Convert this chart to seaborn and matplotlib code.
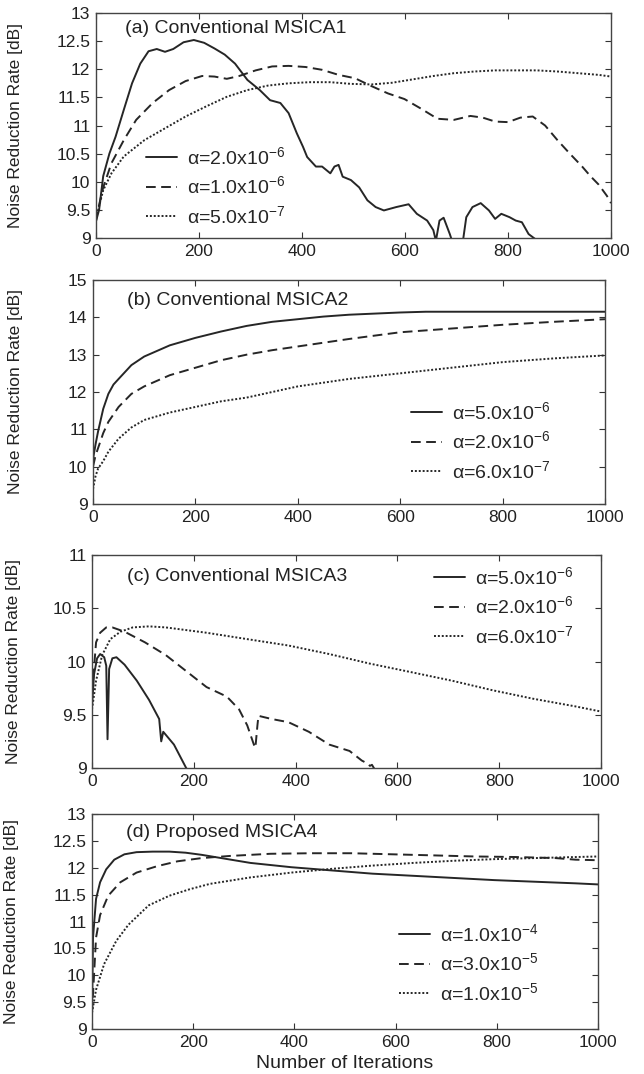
import numpy as np
import pandas as pd
import matplotlib
matplotlib.use("Agg")
import matplotlib.pyplot as plt
import seaborn as sns

sns.set_theme(style="ticks")
plt.rcParams["font.family"] = ["Liberation Sans", "DejaVu Sans"]
plt.rcParams["mathtext.fontset"] = "custom"
plt.rcParams["mathtext.rm"] = "Liberation Sans"
plt.rcParams["mathtext.it"] = "Liberation Sans"

# ---------------- data ----------------
# (a) Conventional MSICA1
a_lbl = ["α=2.0x10$^{-6}$", "α=1.0x10$^{-6}$", "α=5.0x10$^{-7}$"]
a1_x = [0, 6, 14, 26, 38, 54, 70, 86, 102, 118, 134, 150, 170, 190, 210, 230, 250, 270, 294, 318,
        338, 358, 374, 390, 402, 410, 427, 439, 455, 463, 471, 479, 495, 511, 527, 543, 559, 583,
        607, 623, 643, 655, 660, 667, 675, 687, 695, 705, 711, 719, 731, 747, 763, 775, 787, 803,
        815, 827, 840, 856, 870, 1000]
a1_y = [9.3, 9.5, 10.1, 10.5, 10.8, 11.28, 11.75, 12.1, 12.32, 12.36, 12.31, 12.36, 12.48, 12.52,
        12.47, 12.37, 12.26, 12.1, 11.81, 11.63, 11.45, 11.4, 11.22, 10.86, 10.62, 10.44, 10.27,
        10.27, 10.15, 10.27, 10.3, 10.09, 10.03, 9.9, 9.67, 9.55, 9.49, 9.55, 9.6, 9.43, 9.31,
        9.14, 8.95, 9.31, 9.36, 9.07, 8.85, 8.7, 8.85, 9.37, 9.55, 9.62, 9.49, 9.34, 9.43, 9.37,
        9.31, 9.28, 9.07, 8.96, 8.8, 8.6]
a2_x = [0, 2, 14, 30, 54, 78, 110, 142, 174, 206, 230, 254, 278, 310, 342, 374, 407, 439, 471,
        503, 535, 567, 599, 631, 663, 695, 727, 751, 775, 800, 824, 848, 872, 896, 920, 944, 960,
        976, 992, 1000]
a2_y = [9.3, 9.43, 9.9, 10.33, 10.74, 11.1, 11.4, 11.63, 11.79, 11.88, 11.87, 11.83, 11.88, 11.98,
        12.05, 12.06, 12.04, 11.99, 11.9, 11.84, 11.7, 11.57, 11.47, 11.3, 11.12, 11.1, 11.17,
        11.14, 11.07, 11.06, 11.14, 11.16, 11.0, 10.74, 10.5, 10.27, 10.1, 9.95, 9.75, 9.62]
a3_x = [0, 14, 30, 54, 94, 134, 174, 214, 254, 294, 334, 374, 415, 455, 495, 535, 575, 615, 655,
        695, 735, 775, 815, 856, 896, 936, 976, 1000]
a3_y = [9.35, 9.85, 10.15, 10.45, 10.74, 10.95, 11.16, 11.34, 11.51, 11.63, 11.71, 11.75, 11.77,
        11.77, 11.74, 11.73, 11.76, 11.82, 11.88, 11.93, 11.96, 11.98, 11.98, 11.98, 11.96, 11.93,
        11.9, 11.87]

# (b) Conventional MSICA2
b_lbl = ["α=5.0x10$^{-6}$", "α=2.0x10$^{-6}$", "α=6.0x10$^{-7}$"]
b1_x = [0, 5, 10, 20, 30, 40, 50, 75, 100, 150, 200, 250, 300, 350, 400, 450, 500, 550, 600, 650,
        700, 1000]
b1_y = [10.2, 10.6, 10.95, 11.55, 11.95, 12.2, 12.35, 12.72, 12.95, 13.25, 13.45, 13.62, 13.77,
        13.88, 13.95, 14.02, 14.07, 14.1, 14.13, 14.15, 14.15, 14.15]
b2_x = [0, 5, 10, 20, 30, 50, 75, 100, 150, 200, 250, 300, 350, 400, 450, 500, 600, 700, 800, 900,
        1000]
b2_y = [10.0, 10.3, 10.5, 10.9, 11.2, 11.6, 11.95, 12.15, 12.45, 12.65, 12.85, 13.0, 13.12, 13.22,
        13.32, 13.42, 13.6, 13.7, 13.8, 13.88, 13.95]
b3_x = [0, 5, 10, 20, 30, 50, 75, 100, 150, 200, 250, 300, 400, 500, 600, 700, 800, 900, 1000]
b3_y = [9.4, 9.75, 9.95, 10.15, 10.4, 10.75, 11.05, 11.25, 11.45, 11.6, 11.75, 11.85, 12.15, 12.35,
        12.5, 12.65, 12.8, 12.9, 12.98]

# (c) Conventional MSICA3
c_lbl = ["α=5.0x10$^{-6}$", "α=2.0x10$^{-6}$", "α=6.0x10$^{-7}$"]
c1_x = [0, 4, 10, 16, 24, 28, 30.5, 33.7, 40, 48, 64, 88, 112, 132, 136, 140, 161, 185, 200]
c1_y = [9.58, 9.88, 10.03, 10.07, 10.04, 9.96, 9.27, 9.93, 10.03, 10.04, 9.97, 9.82, 9.64, 9.46,
        9.25, 9.34, 9.22, 9.0, 8.9]
c2_x = [0, 8, 16, 28, 40, 64, 104, 145, 185, 225, 265, 289, 305, 318, 321, 325, 327, 353, 386, 426,
        466, 506, 530, 542, 546, 550, 560]
c2_y = [9.7, 10.18, 10.27, 10.32, 10.32, 10.28, 10.18, 10.06, 9.91, 9.76, 9.67, 9.55, 9.4, 9.22,
        9.19, 9.4, 9.49, 9.46, 9.43, 9.34, 9.22, 9.16, 9.07, 9.04, 9.02, 9.03, 8.95]
c3_x = [0, 8, 20, 36, 56, 80, 112, 145, 225, 305, 386, 466, 546, 627, 707, 787, 867, 948, 1000]
c3_y = [9.55, 9.82, 10.06, 10.21, 10.28, 10.32, 10.33, 10.32, 10.27, 10.21, 10.15, 10.07, 9.98,
        9.9, 9.82, 9.73, 9.65, 9.58, 9.53]

# (d) Proposed MSICA4
d_lbl = ["α=1.0x10$^{-4}$", "α=3.0x10$^{-5}$", "α=1.0x10$^{-5}$"]
d1_x = [0, 2, 4, 8, 16, 28, 44, 64, 88, 120, 153, 185, 217, 249, 281, 313, 394, 474, 554, 635,
        715, 795, 875, 956, 1000]
d1_y = [9.3, 10.7, 10.94, 11.42, 11.73, 11.97, 12.15, 12.25, 12.29, 12.3, 12.3, 12.28, 12.24, 12.19,
        12.14, 12.09, 12.01, 11.95, 11.89, 11.85, 11.81, 11.77, 11.74, 11.71, 11.69]
d2_x = [0, 8, 16, 32, 56, 88, 129, 169, 217, 273, 353, 434, 514, 594, 675, 755, 835, 916, 956,
        1000]
d2_y = [9.3, 10.7, 11.12, 11.48, 11.73, 11.91, 12.03, 12.12, 12.18, 12.22, 12.26, 12.27, 12.27,
        12.25, 12.23, 12.21, 12.2, 12.18, 12.15, 12.14]
d3_x = [0, 8, 24, 48, 72, 112, 153, 193, 233, 313, 394, 474, 554, 635, 715, 795, 875, 1000]
d3_y = [9.3, 9.73, 10.21, 10.64, 10.94, 11.3, 11.48, 11.6, 11.7, 11.82, 11.91, 11.98, 12.04, 12.09,
        12.13, 12.16, 12.18, 12.21]

# ---------------- layout ----------------
W, H = 644, 1074
fig = plt.figure(figsize=(W / 100, H / 100), dpi=100)

INK = "#262626"
TXT = "#222222"
FS_TICK, FS_TEXT, FS_YLAB = 12.5, 14, 12.5
styles = [dict(linestyle="-"), dict(linestyle=(0, (5, 2.8))), dict(linestyle=(0, (1, 1)))]


def make_axes(left, right, top, bottom):
    return fig.add_axes([left / W, 1 - bottom / H, (right - left) / W, (bottom - top) / H])


panels = [
    dict(box=(96, 611, 13, 238), ylim=(9, 13), yt=np.arange(9, 13.01, 0.5),
         title="(a) Conventional MSICA1", tpos=(0.057, 0.93), ylab_x=-0.142,
         series=[(a1_x, a1_y), (a2_x, a2_y), (a3_x, a3_y)], labels=a_lbl, leg=(0.089, 0.427)),
    dict(box=(93, 605, 280, 504), ylim=(9, 15), yt=np.arange(9, 15.01, 1),
         title="(b) Conventional MSICA2", tpos=(0.067, 0.91), ylab_x=-0.137,
         series=[(b1_x, b1_y), (b2_x, b2_y), (b3_x, b3_y)], labels=b_lbl, leg=(0.613, 0.478)),
    dict(box=(92, 601, 555, 768), ylim=(9, 11), yt=np.arange(9, 11.01, 0.5),
         title="(c) Conventional MSICA3", tpos=(0.068, 0.90), ylab_x=-0.14,
         series=[(c1_x, c1_y), (c2_x, c2_y), (c3_x, c3_y)], labels=c_lbl, leg=(0.664, 0.967)),
    dict(box=(92, 598, 814, 1029), ylim=(9, 13), yt=np.arange(9, 13.01, 0.5),
         title="(d) Proposed MSICA4", tpos=(0.068, 0.915), ylab_x=-0.145,
         series=[(d1_x, d1_y), (d2_x, d2_y), (d3_x, d3_y)], labels=d_lbl, leg=(0.599, 0.512)),
]

for i, p in enumerate(panels):
    ax = make_axes(*p["box"])
    for (xs, ys), lab, st in zip(p["series"], p["labels"], styles):
        sns.lineplot(x=xs, y=ys, ax=ax, color=INK, linewidth=1.4, label=lab, sort=False,
                     estimator=None, **st)
    ax.set_xlim(0, 1000)
    ax.set_ylim(*p["ylim"])
    ax.set_xticks(np.arange(0, 1001, 200))
    ax.set_yticks(p["yt"])
    ax.set_yticklabels([f"{v:g}" for v in p["yt"]])
    ax.tick_params(direction="in", top=True, right=True, length=4, width=0.8,
                   labelsize=FS_TICK, colors="#333333", labelcolor=TXT, pad=4)
    for s in ax.spines.values():
        s.set_color("#444444")
        s.set_linewidth(1.0)
    ax.set_ylabel("Noise Reduction Rate [dB]", fontsize=FS_YLAB, color=TXT)
    ax.yaxis.set_label_coords(p["ylab_x"], 0.5)
    ax.text(p["tpos"][0], p["tpos"][1], p["title"], transform=ax.transAxes, fontsize=FS_TEXT,
            color=TXT, ha="left", va="center")
    ax.legend(loc="upper left", bbox_to_anchor=p["leg"], frameon=False, fontsize=FS_TEXT,
              handlelength=1.6, handletextpad=0.5, labelspacing=0.4, borderaxespad=0,
              borderpad=0.2)
    if i == 3:
        ax.set_xlabel("Number of Iterations", fontsize=FS_TEXT, color=TXT, labelpad=4)

fig.savefig("out.png", dpi=100, facecolor="white")
